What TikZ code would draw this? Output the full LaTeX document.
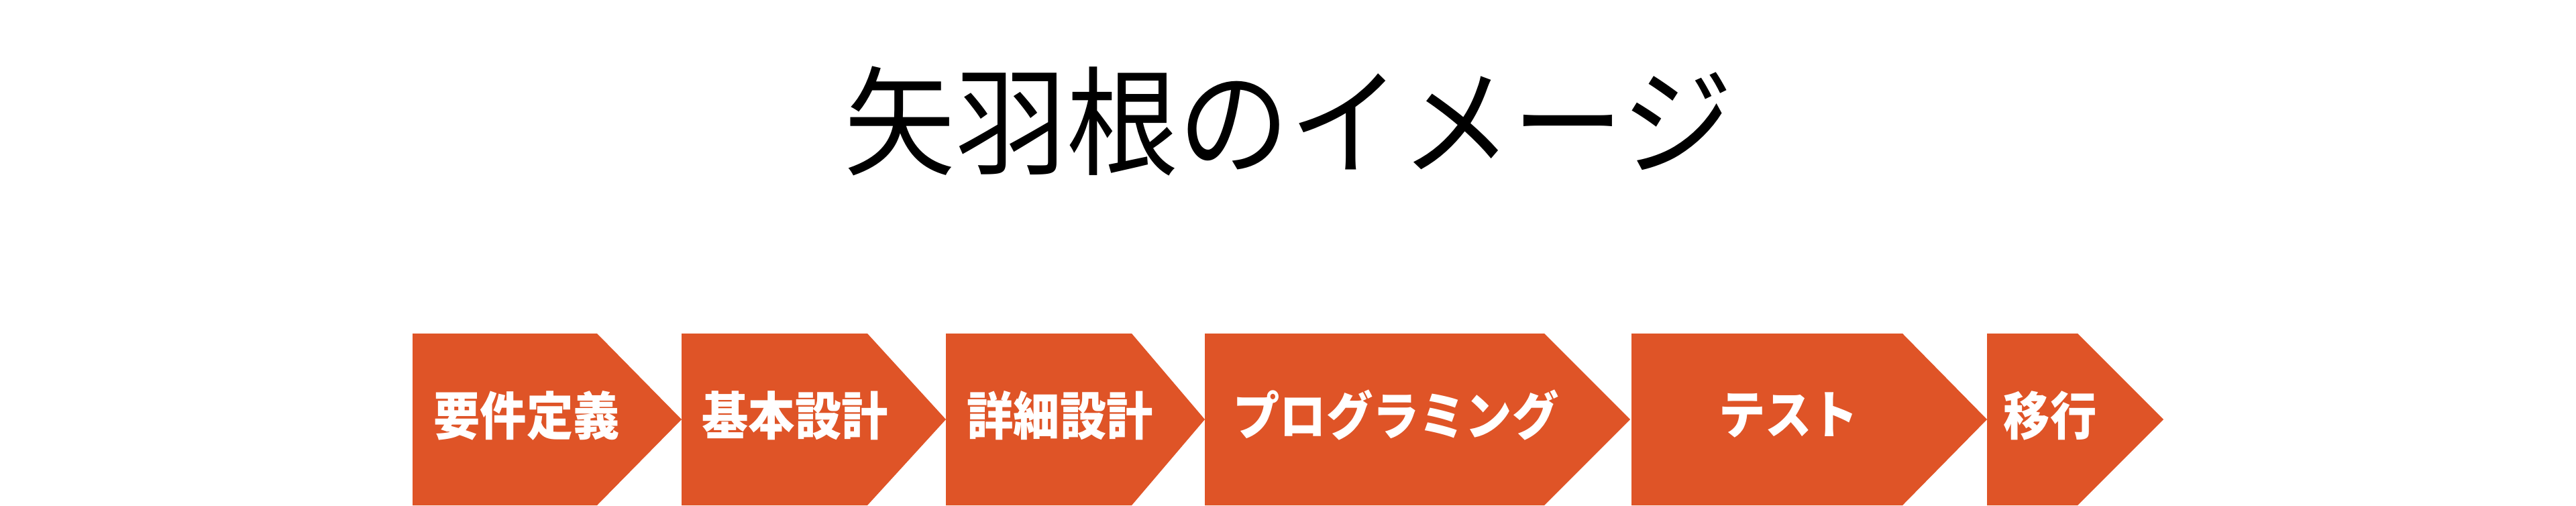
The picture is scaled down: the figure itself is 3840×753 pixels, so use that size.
\documentclass[tikz,border=0pt]{standalone}
\usepackage{fontspec}
\newfontfamily\cjk{Noto Sans CJK JP}
\definecolor{arrowfill}{HTML}{DF5427}
\newcommand{\narrowtext}[1]{\scalebox{0.9}[1.0]{#1}}
\begin{document}
\begin{tikzpicture}[x=1pt,y=-1pt,
  phase/.style={fill=arrowfill,draw=none},
  phaselabel/.style={text=white,inner sep=0pt,anchor=center,font=\cjk\bfseries\fontsize{77}{85}\selectfont},
  titlelabel/.style={text=black,inner sep=0pt,anchor=center,font=\cjk\fontsize{166}{180}\selectfont}]
\useasboundingbox (0,0) rectangle (3840,753);
\fill[white] (0,0) rectangle (3840,753);
\node[titlelabel] (title) at (1921,180) {\scalebox{1.0}[1.06]{矢羽根のイメージ}};
% chevrons: left, corner, tip
\foreach \l/\c/\t in {615/890/1016, 1016/1293/1410, 1410/1687/1796, 1796/2302/2430, 2432/2836/2962, 2962/3097/3225}{
  \path[phase] (\l,497) -- (\c,497) -- (\t,625) -- (\c,753) -- (\l,753) -- cycle;
}
\node[phaselabel] (p1) at (785,619) {\narrowtext{要件定義}};
\node[phaselabel] (p2) at (1185,619) {\narrowtext{基本設計}};
\node[phaselabel] (p3) at (1580,619) {\narrowtext{詳細設計}};
\node[phaselabel] (p4) at (2081,619) {\narrowtext{プログラミング}};
\node[phaselabel] (p5) at (2666,619) {\narrowtext{テスト}};
\node[phaselabel] (p6) at (3056,619) {\narrowtext{移行}};
\end{tikzpicture}
\end{document}
